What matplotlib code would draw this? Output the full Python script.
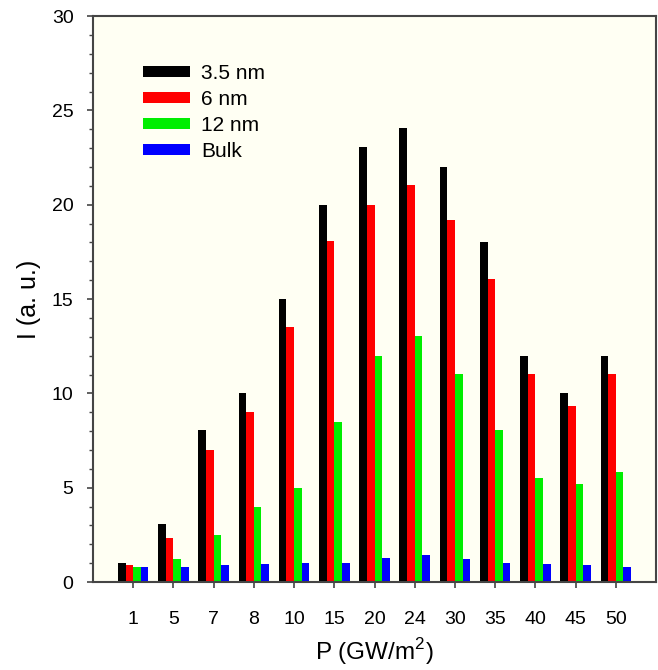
import numpy as np
import matplotlib
matplotlib.use('Agg')
import matplotlib.pyplot as plt

plt.rcParams['font.family'] = ['Liberation Sans', 'DejaVu Sans']

# pump intensity groups and peak intensities
power_labels = ['1', '5', '7', '8', '10', '15', '20', '24', '30', '35', '40', '45', '50']
i_3p5nm = [1.0, 3.05, 8.05, 10.0, 15.0, 20.0, 23.05, 24.05, 22.0, 18.0, 12.0, 10.0, 12.0]
i_6nm = [0.9, 2.33, 7.0, 9.0, 13.5, 18.1, 20.0, 21.05, 19.2, 16.05, 11.05, 9.35, 11.05]
i_12nm = [0.8, 1.22, 2.5, 4.0, 5.0, 8.5, 12.0, 13.05, 11.05, 8.05, 5.5, 5.2, 5.85]
i_bulk = [0.8, 0.8, 0.9, 0.95, 1.0, 1.0, 1.25, 1.45, 1.2, 1.0, 0.95, 0.9, 0.8]

series = [('3.5 nm', i_3p5nm, '#000000'),
          ('6 nm', i_6nm, '#ff0000'),
          ('12 nm', i_12nm, '#00ee00'),
          ('Bulk', i_bulk, '#0000ff')]

fig = plt.figure(figsize=(6.58, 6.70), dpi=100)
ax = fig.add_axes([0.1413, 0.1313, 0.8557, 0.8447])
ax.set_facecolor('#fffff3')

x = np.arange(len(power_labels))
w = 0.19
for k, (name, vals, col) in enumerate(series):
    ax.bar(x + (k - 1.5) * w, vals, width=w, color=col, label=name, linewidth=0)

ax.set_xlim(-1, 13)
ax.set_ylim(0, 30)
ax.set_xticks(x)
ax.set_xticklabels(power_labels)
ax.set_yticks(np.arange(0, 31, 5))
ax.set_yticks(np.arange(0, 31, 1), minor=True)

for s in ax.spines.values():
    s.set_color('#454545')
    s.set_linewidth(1.5)
ax.tick_params(axis='both', which='major', direction='out', length=4, width=1.2,
               color='#454545', labelsize=14)
ax.tick_params(axis='y', which='minor', direction='out', length=3, width=1.0, color='#454545')
ax.tick_params(axis='y', which='major', pad=10)
ax.tick_params(axis='x', pad=17)

ax.set_xlabel(r'P (GW/m$^\mathregular{2}$)', fontsize=17.5, labelpad=6)
ax.set_ylabel('I (a. u.)', fontsize=18, labelpad=8)

ax.legend(loc='upper left', bbox_to_anchor=(0.088, 0.915), frameon=False,
          fontsize=15, handlelength=2.3, handleheight=0.45, labelspacing=0.33,
          handletextpad=0.5, borderpad=0, borderaxespad=0)

fig.savefig('out.png', dpi=100)
